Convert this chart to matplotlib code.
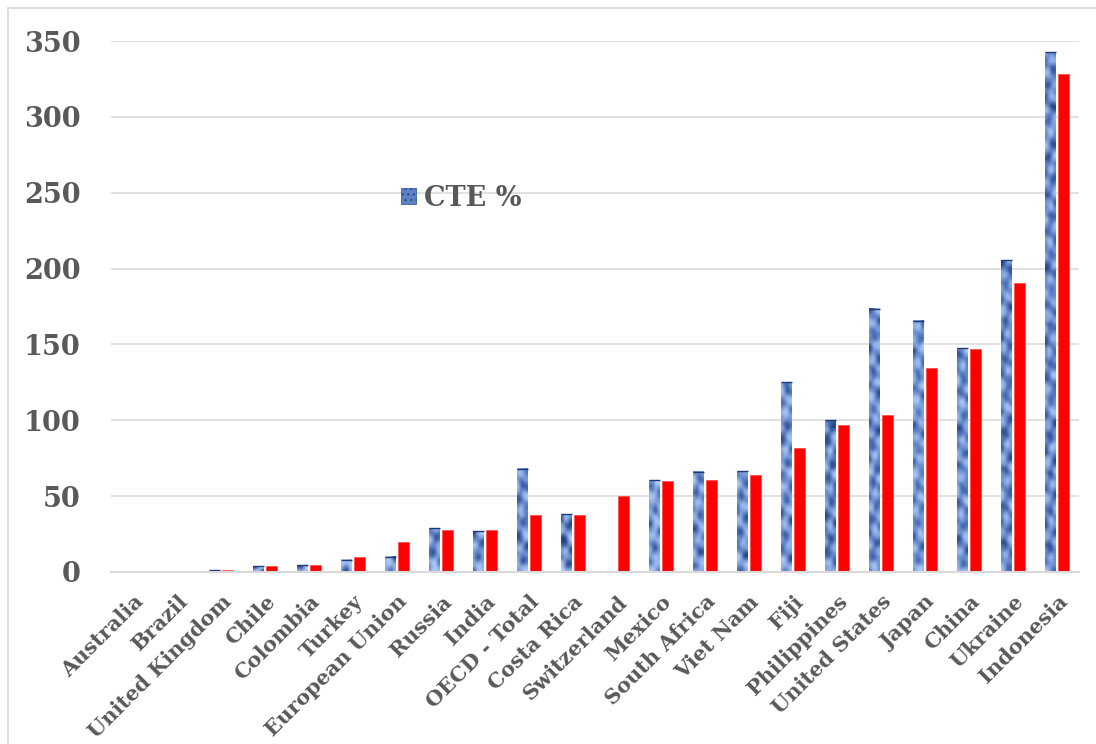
import numpy as np
import matplotlib
matplotlib.use("Agg")
import matplotlib.pyplot as plt
from matplotlib.colors import LinearSegmentedColormap
from matplotlib.lines import Line2D
from matplotlib.patches import Patch

countries = ["Australia", "Brazil", "United Kingdom", "Chile", "Colombia", "Turkey",
             "European Union", "Russia", "India", "OECD - Total", "Costa Rica",
             "Switzerland", "Mexico", "South Africa", "Viet Nam", "Fiji", "Philippines",
             "United States", "Japan", "China", "Ukraine", "Indonesia"]
cte_pct = [0, 0, 1.2, 3.8, 4.6, 8, 10, 29, 27, 68, 38,
           0, 60.5, 66, 66.5, 125, 100, 173.5, 165.5, 147.5, 205.5, 342.5]
second_series = [0, 0, 1, 3.8, 4.6, 9.7, 20, 27.5, 28, 37.5, 37.5,
                 50, 60, 60.5, 64, 82, 97, 103.5, 134.5, 146.8, 190.5, 328]
yticks = [0, 50, 100, 150, 200, 250, 300, 350]

TEXT = "#595959"
GRID = "#d9d9d9"
FONT = "DejaVu Serif"

fig = plt.figure(figsize=(10.96, 7.44), dpi=100)
ax = fig.add_axes([111 / 1096, 1 - 572 / 744, 968 / 1096, 531 / 744])

x = np.arange(len(countries))
bw = 0.245
off = 0.148

blue_bars = ax.bar(x - off, cte_pct, width=bw, color="#6688cc", linewidth=0, zorder=2)
ax.bar(x + off, second_series, width=bw, color="#ff0000", edgecolor="#ff5050",
       linewidth=0.6, zorder=2, label="_nolegend_")

# stone-like blue texture painted inside each blue bar
stone = LinearSegmentedColormap.from_list(
    "stone", ["#163272", "#3a5fa6", "#6f94d6", "#9dbdf0", "#c2d7fa"])
for i, b in enumerate(blue_bars):
    h = b.get_height()
    if h <= 0:
        continue
    rows = max(2, int(h * 1.517 / 4.0))
    r, c = np.mgrid[0:rows, 0:4]
    v = (np.sin(r * 1.37 + c * 0.9 + i * 0.7)
         + 0.9 * np.sin(r * 0.71 - c * 1.4 + i * 1.3)
         + 0.6 * np.sin(r * 2.3 * (1 + 0.2 * np.cos(c)) + i * 2.1)
         + 0.5 * np.cos(r * 0.29 + c * r * 0.17))
    v = (v - v.min()) / (v.max() - v.min())
    x0 = b.get_x()
    ax.imshow(v, extent=(x0, x0 + b.get_width(), 0, h), aspect="auto",
              cmap=stone, interpolation="bicubic", zorder=2.1, origin="lower")
    ax.plot([x0, x0 + b.get_width()], [h, h], color="#1c3a78", lw=1.0,
            zorder=2.2, solid_capstyle="butt")

ax.set_xlim(-0.5, len(countries) - 0.5)
ax.set_ylim(0, 350)
ax.set_yticks(yticks)
ax.set_yticklabels([str(t) for t in yticks], fontfamily=FONT, fontweight="bold",
                   fontsize=19.5, color=TEXT)
ax.set_xticks(x)
ax.set_xticklabels(countries, rotation=45, ha="right", rotation_mode="anchor",
                   fontfamily=FONT, fontweight="bold", fontsize=15, color=TEXT)
ax.tick_params(axis="y", length=0, pad=22)
ax.tick_params(axis="x", length=0, pad=14)

ax.grid(axis="y", color=GRID, linewidth=1.1, zorder=0)
ax.set_axisbelow(True)
for s in ["top", "right", "left"]:
    ax.spines[s].set_visible(False)
ax.spines["bottom"].set_color(GRID)
ax.spines["bottom"].set_linewidth(1.5)
ax.spines["bottom"].set_zorder(3)

handle = Patch(facecolor="#5d82c6", edgecolor="#2f528f", hatch="...", linewidth=0.5)
ax.legend([handle], ["CTE %"], loc="center left", bbox_to_anchor=(0.300, 0.704),
          frameon=False, handlelength=0.55, handleheight=0.55, handletextpad=0.3,
          borderpad=0, borderaxespad=0,
          prop={"family": FONT, "weight": "bold", "size": 19.5}, labelcolor=TEXT)

# thin frame along the top and left of the figure
fig.add_artist(Line2D([8 / 1096, 8 / 1096], [0, 1 - 8 / 744], color=GRID, lw=1.2,
                      transform=fig.transFigure))
fig.add_artist(Line2D([8 / 1096, 1], [1 - 8 / 744, 1 - 8 / 744], color=GRID, lw=1.2,
                      transform=fig.transFigure))

fig.savefig("out.png", dpi=100)
